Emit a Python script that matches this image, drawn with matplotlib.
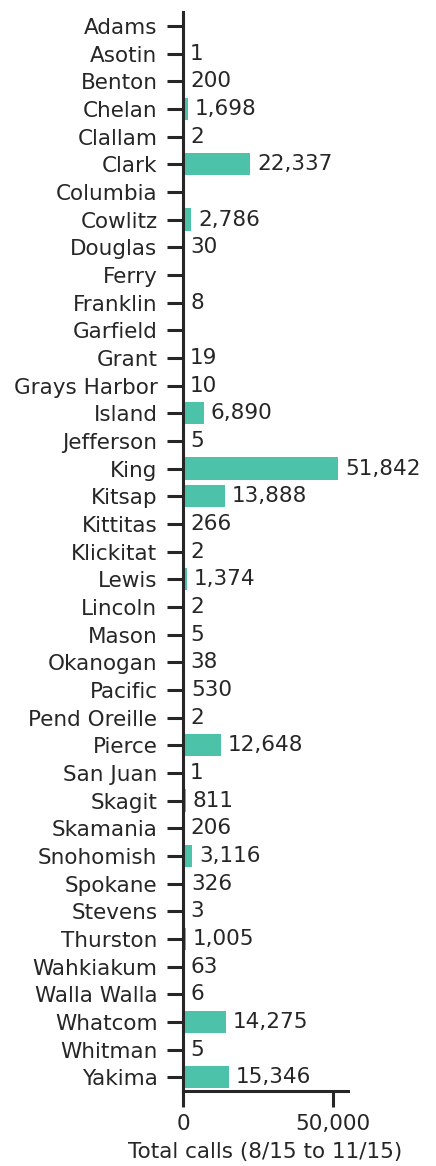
import numpy as np
import matplotlib
matplotlib.use("Agg")
from matplotlib import pyplot as plt
from matplotlib.ticker import FuncFormatter

counties = ["Adams", "Asotin", "Benton", "Chelan", "Clallam", "Clark", "Columbia",
            "Cowlitz", "Douglas", "Ferry", "Franklin", "Garfield", "Grant",
            "Grays Harbor", "Island", "Jefferson", "King", "Kitsap", "Kittitas",
            "Klickitat", "Lewis", "Lincoln", "Mason", "Okanogan", "Pacific",
            "Pend Oreille", "Pierce", "San Juan", "Skagit", "Skamania", "Snohomish",
            "Spokane", "Stevens", "Thurston", "Wahkiakum", "Walla Walla", "Whatcom",
            "Whitman", "Yakima"]
calls = [np.nan, 1, 200, 1698, 2, 22337, np.nan,
         2786, 30, np.nan, 8, np.nan, 19,
         10, 6890, 5, 51842, 13888, 266,
         2, 1374, 2, 5, 38, 530,
         2, 12648, 1, 811, 206, 3116,
         326, 3, 1005, 63, 6, 14275,
         5, 15346]
xticks = [0, 50000]

ink = "#262626"
bar_color = "#4cc3a9"
fs = 15.5

fig = plt.figure(figsize=(4.36, 11.66), dpi=100)
ax = fig.add_axes([0.42, 0.0643, 0.378, 0.9254])

y = np.arange(len(counties))
vals = np.nan_to_num(np.array(calls, dtype=float))
ax.barh(y, vals, height=0.8, color=bar_color, linewidth=0)

for yi, v in zip(y, calls):
    if np.isnan(v):
        continue
    ax.annotate(f"{int(v):,}", (v, yi), xytext=(5, 0), textcoords="offset points",
                va="center", ha="left", fontsize=fs, color=ink)

ax.set_yticks(y)
ax.set_yticklabels(counties)
ax.set_ylim(len(counties) - 0.5, -0.5)
ax.set_xlim(0, 55000)
ax.set_xticks(xticks)
ax.xaxis.set_major_formatter(FuncFormatter(lambda v, p: f"{int(v):,}"))
ax.set_xlabel("Total calls (8/15 to 11/15)", fontsize=fs, color=ink, labelpad=6)

for side in ["top", "right"]:
    ax.spines[side].set_visible(False)
for side in ["left", "bottom"]:
    ax.spines[side].set_linewidth(2.2)
    ax.spines[side].set_color(ink)
ax.tick_params(axis="both", length=11.5, width=2.2, color=ink, labelcolor=ink,
               labelsize=fs, pad=7)
ax.tick_params(axis="x", pad=5)

fig.savefig("out.png", dpi=100)
